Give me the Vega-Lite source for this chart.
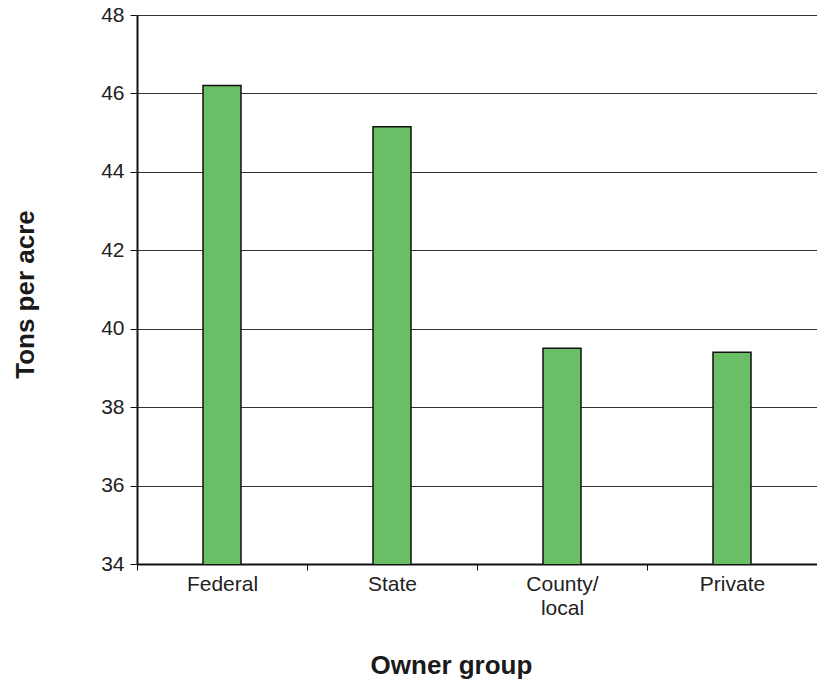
{
  "$schema": "https://vega.github.io/schema/vega-lite/v6.json",
  "width": 680,
  "height": 549,
  "autosize": {"type": "none"},
  "padding": {"left": 137, "top": 15, "right": 0, "bottom": 118},
  "background": "white",
  "config": {
    "font": "Liberation Sans",
    "view": {"stroke": null},
    "axis": {"labelFont": "Liberation Sans", "titleFont": "Liberation Sans", "labelColor": "#222", "titleColor": "#1a1a1a"}
  },
  "data": {"values": [
    {"group": "Federal", "tons": 46.2},
    {"group": "State", "tons": 45.15},
    {"group": "County/local", "tons": 39.5},
    {"group": "Private", "tons": 39.4}
  ]},
  "mark": {"type": "bar", "width": 38, "fill": "#6abf66", "stroke": "#111", "strokeWidth": 1.5, "clip": true},
  "encoding": {
    "x": {
      "field": "group", "type": "nominal", "sort": null,
      "scale": {"paddingInner": 0, "paddingOuter": 0},
      "axis": {
        "title": "Owner group", "titleFontSize": 26, "titleFontWeight": "bold",
        "titleX": 314, "titleY": 109, "titleAlign": "center", "titleBaseline": "alphabetic", "titleAnchor": null,
        "labelAngle": 0, "labelFontSize": 21, "labelPadding": 3,
        "labelExpr": "datum.label == 'County/local' ? ['County/', 'local'] : datum.label",
        "labelLineHeight": 24,
        "tickBand": "extent", "ticks": true, "tickSize": 6, "tickColor": "#111",
        "domainColor": "#111", "domainWidth": 2, "grid": false
      }
    },
    "y": {
      "field": "tons", "type": "quantitative",
      "scale": {"domain": [34, 48], "zero": false, "nice": false},
      "axis": {
        "title": "Tons per acre", "titleFontSize": 26, "titleFontWeight": "bold",
        "titleX": -104, "titleY": 279, "titleAlign": "center", "titleBaseline": "alphabetic", "titleAngle": -90,
        "values": [34, 36, 38, 40, 42, 44, 46, 48],
        "labelFontSize": 21, "labelPadding": 6, "tickSize": 7, "tickColor": "#111",
        "domainColor": "#111", "domainWidth": 2,
        "grid": true, "gridColor": "#333", "gridWidth": 1, "gridOpacity": 1
      }
    }
  }
}
